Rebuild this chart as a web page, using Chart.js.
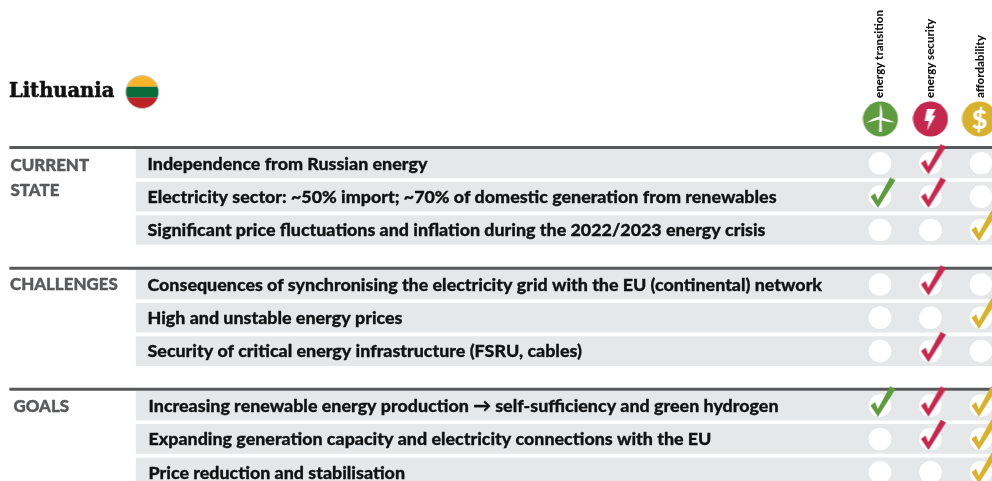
<!doctype html>
<html>

<head>
  <script src="https://cdn.jsdelivr.net/npm/chart.js@4"></script>
  <style>
    html, body { margin: 0; padding: 0; background: #fff; overflow: hidden; }
    canvas { display: block; }
  </style>
</head>

<body>
  <canvas id="canvas" width="992" height="481"></canvas>
  <script>
    const country = 'Lithuania';
    const groups = [['CURRENT', 'STATE'], ['CHALLENGES'], ['GOALS']];
    const columns = ['energy transition', 'energy security', 'affordability'];
    const rowGroup = [0, 0, 0, 1, 1, 1, 2, 2, 2];
    const rowLabels = [
      'Independence from Russian energy',
      'Electricity sector: ~50% import; ~70% of domestic generation from renewables',
      'Significant price fluctuations and inflation during the 2022/2023 energy crisis',
      'Consequences of synchronising the electricity grid with the EU (continental) network',
      'High and unstable energy prices',
      'Security of critical energy infrastructure (FSRU, cables)',
      'Increasing renewable energy production \u2192 self-sufficiency and green hydrogen',
      'Expanding generation capacity and electricity connections with the EU',
      'Price reduction and stabilisation'
    ];
    const energyTransition = [0, 1, 0, 0, 0, 0, 1, 0, 0];
    const energySecurity = [1, 1, 0, 1, 0, 1, 1, 1, 0];
    const affordability = [0, 0, 1, 0, 1, 0, 1, 1, 1];

    const GREEN = '#5e9a40', RED = '#c5284e', YELLOW = '#d8b22f', DARK = '#58595b', ROW = '#e6e7e8';
    const rowY = rowLabels.map((d, i) => i + rowGroup[i] * 0.635);
    const ruleY = [-0.474, 3.147, 6.78];

    function makeCanvas(w, h, draw) {
      const c = document.createElement('canvas');
      c.width = w;
      c.height = h;
      draw(c.getContext('2d'));
      return c;
    }

    // check mark, the canvas centre sits on the row's white circle
    function checkMark(color) {
      return makeCanvas(44, 50, (g) => {
        g.translate(22, 25);
        g.fillStyle = color;
        g.beginPath();
        g.moveTo(-9.5, 0);
        g.lineTo(-5, -3.5);
        g.lineTo(-2.2, 3.2);
        g.lineTo(10.2, -19.2);
        g.lineTo(15.5, -16.5);
        g.lineTo(-2, 10.9);
        g.closePath();
        g.fill();
      });
    }

    function icon(color, drawGlyph) {
      return makeCanvas(36, 36, (g) => {
        g.translate(18, 18);
        g.fillStyle = color;
        g.beginPath();
        g.arc(0, 0, 17.5, 0, Math.PI * 2);
        g.fill();
        g.fillStyle = '#fff';
        g.strokeStyle = '#fff';
        drawGlyph(g);
      });
    }

    const windIcon = icon(GREEN, (g) => {
      g.beginPath();
      g.moveTo(-1, 0);
      g.lineTo(1, 0);
      g.lineTo(1.4, 13);
      g.lineTo(-1.4, 13);
      g.closePath();
      g.fill();
      for (const a of [0, 108, 252]) {
        g.save();
        g.translate(0, -1);
        g.rotate(a * Math.PI / 180);
        g.beginPath();
        g.moveTo(-1, 0);
        g.lineTo(-0.3, -15);
        g.quadraticCurveTo(2.6, -6, 1.6, 0);
        g.closePath();
        g.fill();
        g.restore();
      }
    });

    const boltIcon = icon(RED, (g) => {
      g.beginPath();
      g.moveTo(-3.5, -10);
      g.lineTo(5, -10);
      g.lineTo(1.5, -3.5);
      g.lineTo(5, -3.5);
      g.lineTo(-3.5, 11.5);
      g.lineTo(-1.5, 2);
      g.lineTo(-6, 2);
      g.closePath();
      g.fill();
    });

    const dollarIcon = icon(YELLOW, (g) => {
      g.font = '900 27px Lato';
      g.textAlign = 'center';
      g.textBaseline = 'middle';
      g.fillText('$', 0, 1);
    });

    const flagIcon = makeCanvas(36, 36, (g) => {
      g.translate(18, 18);
      g.save();
      g.beginPath();
      g.arc(0, 0, 16.5, 0, Math.PI * 2);
      g.clip();
      g.fillStyle = '#fdb42a';
      g.fillRect(-18, -18, 36, 12.7);
      g.fillStyle = '#0a6b3a';
      g.fillRect(-18, -5.3, 36, 11);
      g.fillStyle = '#bd2226';
      g.fillRect(-18, 5.7, 36, 13);
      g.restore();
      g.strokeStyle = '#c8c8c8';
      g.lineWidth = 1;
      g.beginPath();
      g.arc(0, 0, 16.5, 0, Math.PI * 2);
      g.stroke();
    });

    function markPoints(marks, col) {
      return rowY.filter((y, i) => marks[i]).map((y) => ({x: col, y: y}));
    }

    function checkDataset(marks, col, color) {
      return {
        type: 'scatter',
        data: markPoints(marks, col),
        pointStyle: checkMark(color),
        pointRadius: 10,
        order: 1
      };
    }

    // fill plus a hairline stroke, Lato black is a bit light next to the original
    function heavyText(g, text, x, y, extra) {
      g.lineWidth = extra;
      g.strokeStyle = g.fillStyle;
      g.strokeText(text, x, y);
      g.fillText(text, x, y);
    }

    // title, group names, row labels and the rotated column heads
    const textPlugin = {
      id: 'tableText',
      afterDatasetsDraw(chart) {
        const g = chart.ctx;
        const x = chart.scales.x, y = chart.scales.y;
        g.save();
        g.lineJoin = 'round';
        g.textBaseline = 'middle';
        g.fillStyle = '#111';
        g.font = '900 19.5px "DejaVu Serif"';
        heavyText(g, country, 9, 92, 0.6);

        g.fillStyle = DARK;
        g.font = '900 16.9px Lato';
        heavyText(g, groups[0][0], 10.5, 166, 0.4);
        heavyText(g, groups[0][1], 10.5, 191, 0.4);
        heavyText(g, groups[1][0], 10, 285, 0.4);
        heavyText(g, groups[2][0], 13.5, 407, 0.4);

        g.fillStyle = '#111';
        g.font = '900 17.85px Lato';
        rowLabels.forEach((name, i) => {
          heavyText(g, name, rowGroup[i] === 2 ? 148.5 : 147.5, y.getPixelForValue(rowY[i]) + 0.5, 0.3);
        });

        g.font = '900 11.5px Lato';
        columns.forEach((name, i) => {
          g.save();
          g.translate(x.getPixelForValue(i) - 0.5, 98);
          g.rotate(-Math.PI / 2);
          g.textAlign = 'left';
          g.fillText(name, 0, 0);
          g.restore();
        });
        g.restore();
      }
    };

    new Chart(document.getElementById('canvas').getContext('2d'), {
      data: {
        datasets: [
          {
            type: 'bar',
            indexAxis: 'y',
            data: rowY.map((y) => ({y: y, x: [-14.73, 2.3]})),
            backgroundColor: ROW,
            barThickness: 29,
            order: 5
          },
          ...ruleY.map((y) => ({
            type: 'line',
            data: [{x: -17.24, y: y}, {x: 2.3, y: y}],
            borderColor: DARK,
            borderWidth: 3,
            pointRadius: 0,
            order: 4
          })),
          {
            type: 'scatter',
            data: columns.flatMap((c, col) => rowY.map((y) => ({x: col, y: y}))),
            pointStyle: 'circle',
            pointRadius: 11.3,
            pointBackgroundColor: '#fff',
            pointBorderWidth: 0,
            order: 3
          },
          {
            type: 'scatter',
            data: [{x: 0.01, y: -1.33}, {x: 1, y: -1.33}, {x: 1.97, y: -1.33}],
            pointStyle: [windIcon, boltIcon, dollarIcon],
            pointRadius: 17,
            order: 2
          },
          {
            type: 'scatter',
            data: [{x: -14.61, y: -2.14}],
            pointStyle: flagIcon,
            pointRadius: 17,
            order: 2
          },
          checkDataset(energyTransition, 0, GREEN),
          checkDataset(energySecurity, 1, RED),
          checkDataset(affordability, 2, YELLOW)
        ]
      },
      options: {
        responsive: false,
        animation: false,
        events: [],
        layout: {padding: 0, autoPadding: false},
        plugins: {legend: {display: false}, tooltip: {enabled: false}},
        scales: {
          x: {type: 'linear', min: -17.426, max: 2.218, offset: false, display: false},
          y: {type: 'linear', reverse: true, min: -4.9, max: 9.532, offset: false, display: false}
        }
      },
      plugins: [textPlugin]
    });
  </script>
</body>

</html>
